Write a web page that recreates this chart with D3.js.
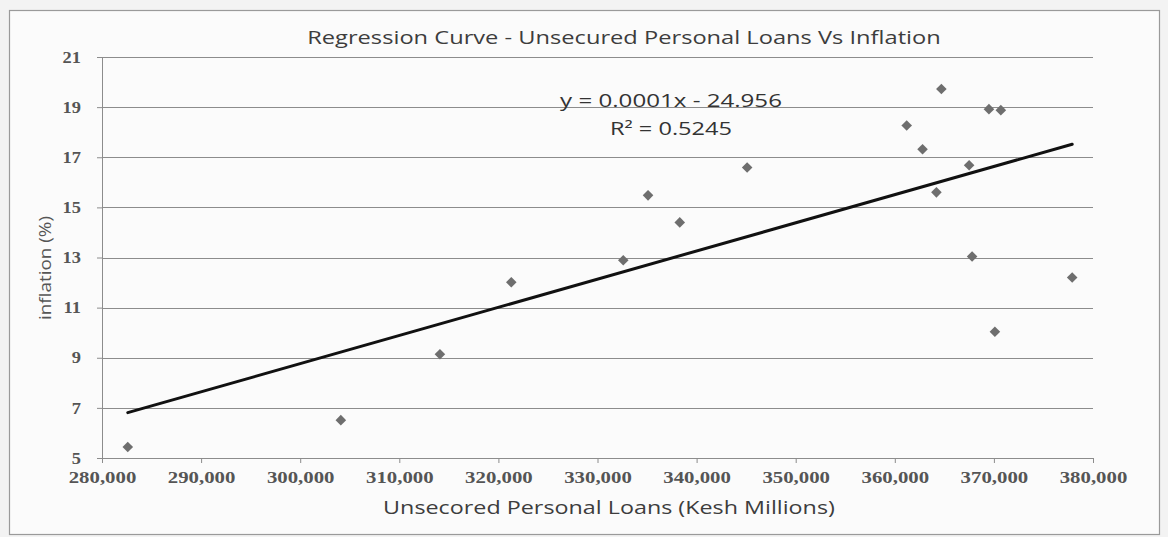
<!DOCTYPE html>
<html>
<head>
<meta charset="utf-8">
<script src="https://cdn.jsdelivr.net/npm/d3@7"></script>
<style>
  html, body { margin: 0; padding: 0; background: #f3f3f3; }
  svg { display: block; }
</style>
</head>
<body>
<svg id="chart" width="1168" height="537"></svg>
<script>
// Unsecured personal loans (Kesh millions) against inflation (%)
const loans = [282600, 304100, 314100, 321300, 332600, 335100, 338300, 345100,
               361200, 362800, 364200, 364700, 367500, 367800, 369500, 370100,
               370700, 377900];
const inflation = [5.44, 6.51, 9.14, 12.01, 12.89, 15.48, 14.40, 16.59,
                   18.27, 17.32, 15.60, 19.72, 16.68, 13.04, 18.92, 10.04,
                   18.88, 12.20];

// Linear trend line fitted to the points
const trendSlope = 0.0001124;
const trendIntercept = -24.956;
const rSquared = 0.5245;

const xTicks = [280000, 290000, 300000, 310000, 320000, 330000, 340000,
                350000, 360000, 370000, 380000];
const yTicks = [5, 7, 9, 11, 13, 15, 17, 19, 21];

const titleText = "Regression Curve - Unsecured Personal Loans Vs Inflation";
const xTitle = "Unsecored Personal Loans (Kesh Millions)";
const yTitle = "inflation (%)";

const svg = d3.select("#chart");
const sans = "'Open Sans', 'DejaVu Sans', sans-serif";
const serif = "'Liberation Serif', 'DejaVu Serif', serif";

// Stretch a text horizontally so it spans the given width, keeping its anchor point
function stretchTo(sel, width, cx, cy, rotate) {
  sel.attr("x", 0).attr("y", 0);
  const w = sel.node().getComputedTextLength();
  const k = width / w;
  sel.attr("transform",
    `translate(${cx},${cy})${rotate ? ` rotate(${rotate})` : ""} scale(${k},1)`);
  return sel;
}

// Chart frame
svg.append("rect")
  .attr("x", 9.5).attr("y", 10.5)
  .attr("width", 1150).attr("height", 524)
  .attr("fill", "#fbfbfb")
  .attr("stroke", "#9a9a9a").attr("stroke-width", 1.2);

const x = d3.scaleLinear().domain([280000, 380000]).range([102, 1093]);
const y = d3.scaleLinear().domain([5, 21]).range([458, 57]);

// Horizontal gridlines
svg.append("g")
  .selectAll("line")
  .data(yTicks.slice(1))
  .join("line")
  .attr("x1", x(280000)).attr("x2", x(380000))
  .attr("y1", d => Math.round(y(d)) + 0.5)
  .attr("y2", d => Math.round(y(d)) + 0.5)
  .attr("stroke", "#8c8c8c").attr("stroke-width", 1);

// Y axis
const yAxis = svg.append("g")
  .attr("transform", `translate(${x(280000)},0)`)
  .call(d3.axisLeft(y).tickValues(yTicks).tickSize(5).tickPadding(16)
        .tickFormat(d3.format("d")));
yAxis.select(".domain").attr("stroke", "#8c8c8c");
yAxis.selectAll(".tick line").attr("stroke", "#8c8c8c");
yAxis.selectAll("text")
  .attr("font-family", serif).attr("font-size", 16).attr("font-weight", "bold")
  .attr("fill", "#555")
  .attr("x", 0)
  .attr("transform", "translate(-21,0) scale(1.15,1)");

// X axis
const xAxis = svg.append("g")
  .attr("transform", `translate(0,${y(5)})`)
  .call(d3.axisBottom(x).tickValues(xTicks).tickSize(5).tickPadding(9)
        .tickFormat(d3.format(",")));
xAxis.select(".domain").attr("stroke", "#8c8c8c");
xAxis.selectAll(".tick line").attr("stroke", "#8c8c8c");
xAxis.selectAll("text")
  .attr("font-family", serif).attr("font-size", 16).attr("font-weight", "bold")
  .attr("fill", "#555")
  .attr("transform", "scale(1.3,1)");

// Trend line across the range of the data
const xMin = d3.min(loans), xMax = d3.max(loans);
const trend = d => trendSlope * d + trendIntercept;
svg.append("line")
  .attr("x1", x(xMin)).attr("y1", y(trend(xMin)))
  .attr("x2", x(xMax)).attr("y2", y(trend(xMax)))
  .attr("stroke", "#111").attr("stroke-width", 3)
  .attr("stroke-linecap", "round");

// Data points (diamonds)
const diamond = d3.symbol().type(d3.symbolSquare).size(56);
svg.append("g")
  .selectAll("path")
  .data(loans.map((v, i) => [v, inflation[i]]))
  .join("path")
  .attr("d", diamond)
  .attr("transform", d => `translate(${x(d[0])},${y(d[1])}) rotate(45)`)
  .attr("fill", "#6e6e6e");

// Title
stretchTo(svg.append("text")
  .attr("text-anchor", "middle")
  .attr("font-family", sans).attr("font-size", 17.5)
  .attr("fill", "#3d3d3d")
  .text(titleText), 634, 624, 44);

// Trend equation and R²
const fmtSlope = d3.format(".4f");
const eqText = `y = ${fmtSlope(trendSlope)}x - ${Math.abs(trendIntercept)}`;
stretchTo(svg.append("text")
  .attr("text-anchor", "middle")
  .attr("font-family", sans).attr("font-size", 17.5)
  .attr("fill", "#333")
  .text(eqText), 222, 671, 107);
stretchTo(svg.append("text")
  .attr("text-anchor", "middle")
  .attr("font-family", sans).attr("font-size", 17.5)
  .attr("fill", "#333")
  .text(`R² = ${rSquared}`), 122, 671, 135);

// Axis titles
stretchTo(svg.append("text")
  .attr("text-anchor", "middle")
  .attr("font-family", sans).attr("font-size", 17.5)
  .attr("fill", "#3d3d3d")
  .text(xTitle), 452, 609, 514);

stretchTo(svg.append("text")
  .attr("text-anchor", "middle")
  .attr("font-family", sans).attr("font-size", 16)
  .attr("fill", "#555")
  .text(yTitle), 104, 51, 268, -90);
</script>
</body>
</html>
